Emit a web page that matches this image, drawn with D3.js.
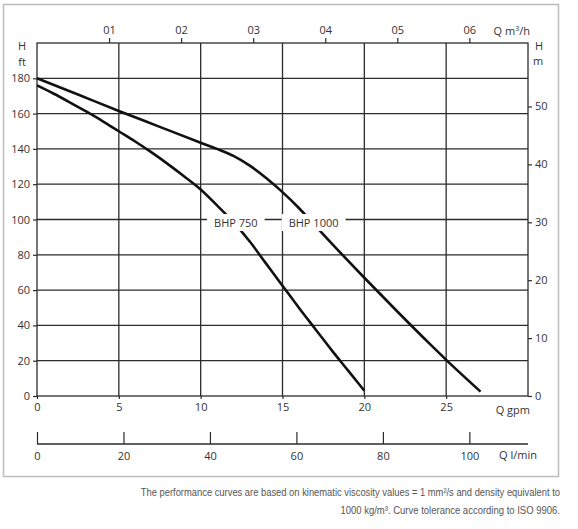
<!DOCTYPE html>
<html><head><meta charset="utf-8">
<script src="https://cdn.jsdelivr.net/npm/d3@7"></script>
<style>
html,body{margin:0;padding:0;background:#fff;}
svg text{font-family:"Open Sans",sans-serif;}
</style></head>
<body><svg id="c" width="578" height="529"></svg>
<script>
// ---- data ----
const seriesNames = ["BHP 750", "BHP 1000"];
const bhp750Q  = [0, 1, 2, 3, 4, 5, 6, 7, 8, 9, 10, 11, 12, 13, 14, 15, 16, 17, 18, 19, 20];
const bhp750H  = [176, 171.4, 166.4, 161.2, 155.8, 150, 144.2, 138, 131.4, 124.4, 117, 108, 98.5, 87.5, 75, 62.5, 50, 38, 26, 14.5, 3];
const bhp1000Q = [0, 2.5, 5, 7.5, 10, 11, 12, 13, 14, 15, 16, 17, 18, 20, 22, 24, 25, 27.1];
const bhp1000H = [180, 170.8, 161.5, 152.5, 143.5, 140, 136, 130.5, 123.5, 115.5, 106.5, 96.5, 86.5, 67, 48, 29.5, 20.5, 2.5];
const ftTicks = [0, 20, 40, 60, 80, 100, 120, 140, 160, 180];
const mTicks = [0, 10, 20, 30, 40, 50];
const gpmTicks = [0, 5, 10, 15, 20, 25];
const m3hTicks = [1, 2, 3, 4, 5, 6];
const m3hLabels = ["01", "02", "03", "04", "05", "06"];
const lminTicks = [0, 20, 40, 60, 80, 100];
const labelAnchorQ = [12.15, 16.9];
const labelAnchorH = [98, 98];
const footnote1 = "The performance curves are based on kinematic viscosity values = 1 mm\u00B2/s and density equivalent to";
const footnote2 = "1000 kg/m\u00B3. Curve tolerance according to ISO 9906.";

// ---- unit conversions ----
const FT_PER_M = 3.28084, M3H_PER_GPM = 0.227125, LMIN_PER_GPM = 3.78541;
const gpmMax = 30, ftMax = 200;

const svg = d3.select("#c");
const L = 37, R = 528, T = 43, B = 396;
const x = d3.scaleLinear([0, gpmMax], [L, R]);
const y = d3.scaleLinear([0, ftMax], [B, T]);
const yM = d3.scaleLinear([0, ftMax / FT_PER_M], [B, T]);
const xTop = d3.scaleLinear([0, gpmMax * M3H_PER_GPM], [L, R]);
const xL = d3.scaleLinear([0, gpmMax * LMIN_PER_GPM], [L, R]);

const ink = "#2b2b2b", txt = "#333";

// outer frame
svg.append("rect").attr("x", 3.5).attr("y", 4.5).attr("width", 555).attr("height", 472)
  .attr("fill", "none").attr("stroke", "#bdbdbd").attr("stroke-width", 1.5);

// grid
const g = svg.append("g").attr("stroke", ink).attr("stroke-width", 1.3);
g.selectAll("line.v").data(gpmTicks.filter(d => d > 0)).join("line")
  .attr("x1", d => x(d)).attr("x2", d => x(d)).attr("y1", T).attr("y2", B);
g.selectAll("line.h").data(ftTicks.filter(d => d > 0)).join("line")
  .attr("y1", d => y(d)).attr("y2", d => y(d)).attr("x1", L).attr("x2", R);
g.append("rect").attr("x", L).attr("y", T).attr("width", R - L).attr("height", B - T).attr("fill", "none");

function styleAxis(sel) {
  sel.select(".domain").remove();
  sel.selectAll(".tick line").attr("stroke", ink).attr("stroke-width", 1.2);
  sel.selectAll(".tick text").attr("fill", txt).attr("font-size", 11);
}

// left axis ft
svg.append("g").attr("transform", `translate(${L},0)`)
  .call(d3.axisLeft(y).tickValues(ftTicks).tickSize(4).tickPadding(3))
  .call(styleAxis);
// right axis m
svg.append("g").attr("transform", `translate(${R},0)`)
  .call(d3.axisRight(yM).tickValues(mTicks).tickSize(4).tickPadding(3))
  .call(styleAxis);
// bottom gpm
svg.append("g").attr("transform", `translate(0,${B})`)
  .call(d3.axisBottom(x).tickValues(gpmTicks).tickSize(3).tickPadding(4))
  .call(styleAxis);
// top m3/h
svg.append("g").attr("transform", `translate(0,${T})`)
  .call(d3.axisTop(xTop).tickValues(m3hTicks).tickFormat((d, i) => m3hLabels[i]).tickSize(5).tickPadding(4))
  .call(styleAxis);
// l/min axis
const LY = 444;
svg.append("line").attr("x1", L).attr("x2", R).attr("y1", LY).attr("y2", LY)
  .attr("stroke", ink).attr("stroke-width", 1.3);
svg.append("g").attr("transform", `translate(0,${LY})`)
  .call(d3.axisTop(xL).tickValues(lminTicks).tickSize(12).tickFormat(""))
  .call(styleAxis);
svg.append("g").attr("transform", `translate(0,${LY})`)
  .call(d3.axisBottom(xL).tickValues(lminTicks).tickSize(0).tickPadding(8))
  .call(styleAxis);

// axis titles
function t(xp, yp, s, anchor) {
  return svg.append("text").attr("x", xp).attr("y", yp).attr("text-anchor", anchor || "middle")
    .attr("fill", txt).attr("font-size", 11).text(s);
}
t(22, 50, "H"); t(22, 66, "ft");
t(539, 50, "H"); t(538, 65, "m");
const qm = svg.append("text").attr("x", 530).attr("y", 35).attr("text-anchor", "end")
  .attr("fill", txt).attr("font-size", 11);
qm.append("tspan").text("Q m");
qm.append("tspan").attr("font-size", 7).attr("dy", -4).text("3");
qm.append("tspan").attr("dy", 4).text("/h");
t(530, 414, "Q gpm", "end");
t(537, 459, "Q l/min", "end");

// curves
const line = d3.line().x(d => x(d[0])).y(d => y(d[1])).curve(d3.curveMonotoneX);
const curves = [d3.zip(bhp750Q, bhp750H), d3.zip(bhp1000Q, bhp1000H)];
svg.append("g").selectAll("path").data(curves).join("path")
  .attr("d", line).attr("fill", "none").attr("stroke", "#111").attr("stroke-width", 2.6)
  .attr("stroke-linecap", "butt");

// curve labels with white knock-out boxes
seriesNames.forEach((name, i) => {
  const gl = svg.append("g");
  const bg = gl.append("rect").attr("fill", "#fff");
  const tx = gl.append("text").attr("x", x(labelAnchorQ[i])).attr("y", y(labelAnchorH[i]) + 4)
    .attr("text-anchor", "middle").attr("fill", txt).attr("font-size", 11).text(name);
  const bb = tx.node().getBBox();
  bg.attr("x", bb.x - 7).attr("y", bb.y - 1).attr("width", bb.width + 14).attr("height", bb.height + 2);
});

// footnote (condensed horizontally, right-aligned at x=560)
const fnStyle = "font-family:'Liberation Sans','Arial',sans-serif;";
function footnote(s, yb, w) {
  const gg = svg.append("g");
  const tx = gg.append("text").attr("x", 0).attr("y", 0).attr("text-anchor", "end")
    .attr("font-size", 10.5).attr("fill", "#555").attr("style", fnStyle).text(s);
  const k = w / tx.node().getComputedTextLength();
  gg.attr("transform", `translate(560,${yb}) scale(${k},1)`);
}
footnote(footnote1, 496, 420);
footnote(footnote2, 514, 220);
</script></body></html>
